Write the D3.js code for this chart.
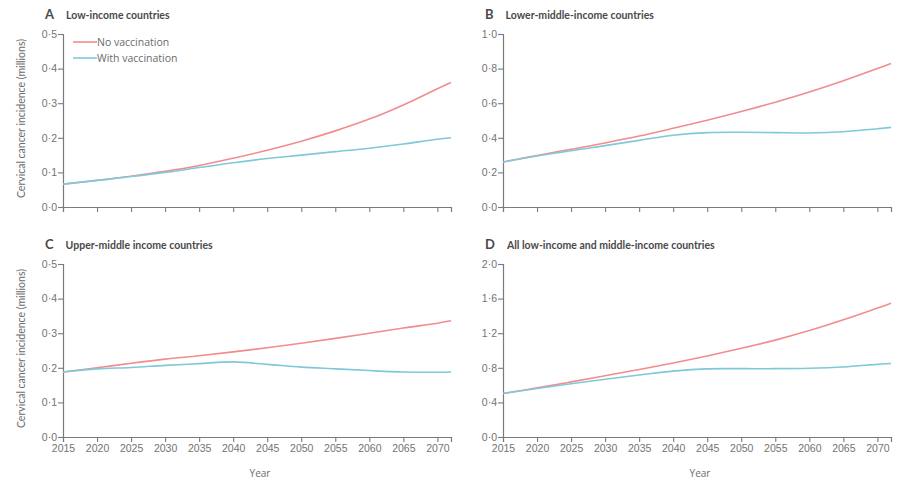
<!DOCTYPE html>
<html>
<head>
<meta charset="utf-8">
<script src="https://cdn.jsdelivr.net/npm/d3@7"></script>
<style>
  html, body { margin: 0; padding: 0; background: #fff; }
  svg { display: block; font-family: "Open Sans", "Liberation Sans", sans-serif; }
</style>
</head>
<body>
<svg id="chart" width="898" height="482"></svg>
<script>
// Projected cervical cancer incidence (millions), 2015–2072
const years = [2015, 2020, 2025, 2030, 2035, 2040, 2045, 2050, 2055, 2060, 2065, 2070, 2072];
const xTicks = [2015, 2020, 2025, 2030, 2035, 2040, 2045, 2050, 2055, 2060, 2065, 2070];

const lowNoVacc   = [0.066, 0.077, 0.089, 0.103, 0.120, 0.141, 0.164, 0.190, 0.220, 0.254, 0.295, 0.342, 0.360];
const lowVacc     = [0.066, 0.077, 0.088, 0.100, 0.114, 0.128, 0.140, 0.150, 0.160, 0.170, 0.182, 0.196, 0.200];
const lowerNoVacc = [0.260, 0.298, 0.334, 0.370, 0.410, 0.455, 0.502, 0.552, 0.606, 0.665, 0.730, 0.800, 0.830];
const lowerVacc   = [0.260, 0.295, 0.325, 0.355, 0.385, 0.415, 0.430, 0.432, 0.430, 0.428, 0.435, 0.452, 0.460];
const upperNoVacc = [0.188, 0.200, 0.213, 0.225, 0.235, 0.246, 0.258, 0.271, 0.285, 0.300, 0.315, 0.329, 0.336];
const upperVacc   = [0.188, 0.197, 0.201, 0.207, 0.212, 0.217, 0.210, 0.202, 0.197, 0.192, 0.188, 0.187, 0.188];
const allNoVacc   = [0.503, 0.568, 0.637, 0.708, 0.780, 0.855, 0.937, 1.025, 1.120, 1.230, 1.355, 1.490, 1.545];
const allVacc     = [0.503, 0.560, 0.615, 0.668, 0.716, 0.762, 0.788, 0.790, 0.790, 0.795, 0.810, 0.840, 0.850];

const seriesNames = ["No vaccination", "With vaccination"];
const seriesColors = ["#f28c8e", "#7fc9d8"];

const panels = [
  { letter: "A", title: "Low-income countries", yMax: 0.5, yTicks: [0, 0.1, 0.2, 0.3, 0.4, 0.5],
    data: [lowNoVacc, lowVacc], left: 63, top: 34, legend: true, xLabels: false, yTitle: true },
  { letter: "B", title: "Lower-middle-income countries", yMax: 1.0, yTicks: [0, 0.2, 0.4, 0.6, 0.8, 1.0],
    data: [lowerNoVacc, lowerVacc], left: 503, top: 34, legend: false, xLabels: false, yTitle: false },
  { letter: "C", title: "Upper-middle income countries", yMax: 0.5, yTicks: [0, 0.1, 0.2, 0.3, 0.4, 0.5],
    data: [upperNoVacc, upperVacc], left: 63, top: 264, legend: false, xLabels: true, yTitle: true },
  { letter: "D", title: "All low-income and middle-income countries", yMax: 2.0, yTicks: [0, 0.4, 0.8, 1.2, 1.6, 2.0],
    data: [allNoVacc, allVacc], left: 503, top: 264, legend: false, xLabels: true, yTitle: false }
];

const plotW = 388, plotH = 173;
const svg = d3.select("#chart");
const fmt = v => d3.format(".1f")(v).replace(".", "\u00b7");

panels.forEach(p => {
  const g = svg.append("g").attr("transform", `translate(${p.left},${p.top})`);
  const x = d3.scaleLinear().domain([2015, 2072]).range([0, plotW]);
  const y = d3.scaleLinear().domain([0, p.yMax]).range([plotH, 0]);

  // x axis
  const xa = g.append("g").attr("transform", `translate(0,${plotH})`)
    .call(d3.axisBottom(x).tickValues(xTicks).tickSize(5).tickPadding(3)
      .tickFormat(p.xLabels ? d3.format("d") : () => ""));
  // y axis
  const ya = g.append("g")
    .call(d3.axisLeft(y).tickValues(p.yTicks).tickSize(5).tickPadding(1).tickFormat(fmt));
  [xa, ya].forEach(a => {
    a.select(".domain").attr("stroke", "#7a7a7a").attr("stroke-width", 1.2);
    a.selectAll(".tick line").attr("stroke", "#7a7a7a").attr("stroke-width", 1.1);
    a.selectAll(".tick text").attr("font-size", 10.5).attr("fill", "#737373");
  });
  ya.select(".domain").attr("d", `M-5,0.5H0.5V${plotH}`);

  // series lines
  const line = d3.line().x((d, i) => x(years[i])).y(d => y(d)).curve(d3.curveCatmullRom.alpha(0.5));
  p.data.forEach((vals, k) => {
    g.append("path").datum(vals).attr("d", line)
      .attr("fill", "none").attr("stroke", seriesColors[k]).attr("stroke-width", 1.6);
  });

  // panel heading
  const h = g.append("text").attr("x", -18).attr("y", -15).attr("fill", "#4a4a4a")
    .attr("font-family", "Lato, 'Open Sans', sans-serif").attr("font-weight", "bold");
  h.append("tspan").attr("font-size", 13).text(p.letter);
  h.append("tspan").attr("dx", 12).attr("font-size", 10.5).text(p.title);

  if (p.yTitle) {
    g.append("text").attr("transform", `translate(-38,${plotH / 2 - 2}) rotate(-90)`)
      .attr("text-anchor", "middle").attr("font-size", 10.5).attr("fill", "#6b6b6b")
      .attr("font-family", "Lato, 'Open Sans', sans-serif")
      .text("Cervical cancer incidence (millions)");
  }
  if (p.xLabels) {
    g.append("text").attr("x", plotW / 2 + 3).attr("y", plotH + 40)
      .attr("text-anchor", "middle").attr("font-size", 10).attr("fill", "#6b6b6b").text("Year");
  }
  if (p.legend) {
    seriesNames.forEach((name, k) => {
      const ly = 8 + k * 16;
      g.append("line").attr("x1", 10).attr("x2", 34).attr("y1", ly).attr("y2", ly)
        .attr("stroke", seriesColors[k]).attr("stroke-width", 1.6);
      g.append("text").attr("x", 34).attr("y", ly + 4).attr("font-size", 10.5)
        .attr("fill", "#6b6b6b").text(name);
    });
  }
});
</script>
</body>
</html>
